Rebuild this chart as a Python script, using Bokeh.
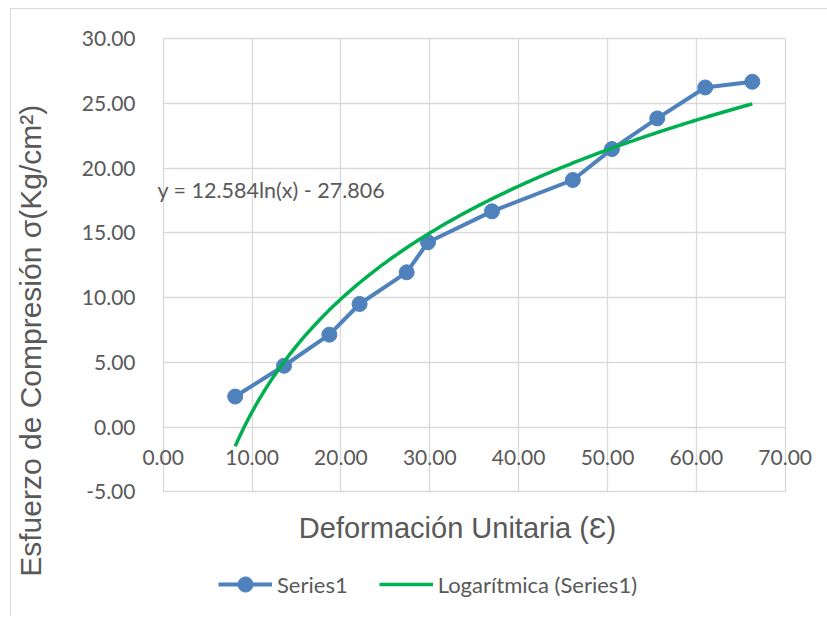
import math
import numpy as np
from bokeh.plotting import figure
from bokeh.models import (ColumnDataSource, FixedTicker, NumeralTickFormatter, Label,
                          Legend, LegendItem, Range1d, Grid)
from bokeh.embed import file_html
from bokeh.resources import INLINE

# Unit strain vs. compressive stress readings
deformacion = [8.1, 13.6, 18.7, 22.1, 27.4, 29.8, 37.0, 46.1, 50.5, 55.6, 61.0, 66.3]
esfuerzo = [2.36, 4.74, 7.14, 9.51, 11.96, 14.28, 16.67, 19.09, 21.48, 23.85, 26.24, 26.68]

# Logarithmic trend line coefficients: y = a ln(x) + b
coef_a = 12.584
coef_b = -27.806

x_ticks = [0, 10, 20, 30, 40, 50, 60, 70]
y_ticks = [-5, 0, 5, 10, 15, 20, 25, 30]

TEXT = "#595959"
GRID = "#d9d9d9"
BLUE = "#4f81bd"
GREEN = "#00b050"

# Geometry: the data box [0,70]x[-5,30] is 622x453 px; the frame is larger so that
# tick numbers, titles and legend can sit around the box without being clipped.
PX_X = 622 / 70
PX_Y = 453 / 35
X_ZERO = 151.7          # canvas px of x = 0
Y_TOP = 29.3            # canvas px of y = 30
FRAME_W, FRAME_H = 803, 598
FRAME_TOP = 9
x_lo = -X_ZERO / PX_X
x_hi = x_lo + FRAME_W / PX_X
y_hi = 30 + (Y_TOP - FRAME_TOP) / PX_Y
y_lo = y_hi - FRAME_H / PX_Y

p = figure(frame_width=FRAME_W, frame_height=FRAME_H,
           min_border_left=0, min_border_right=13,
           min_border_top=FRAME_TOP, min_border_bottom=0,
           x_range=Range1d(x_lo, x_hi), y_range=Range1d(y_lo, y_hi),
           x_axis_location="above",
           output_backend="svg", toolbar_location=None)
p.margin = (8, 0, 0, 10)
p.styles = {"border-top": "1px solid #d9d9d9", "border-left": "1px solid #d9d9d9"}
p.background_fill_color = "white"
p.border_fill_color = "white"
p.outline_line_color = None

# grid limited to the data box
p.xgrid.ticker = FixedTicker(ticks=x_ticks)
p.ygrid.ticker = FixedTicker(ticks=y_ticks)
for g in (p.xgrid, p.ygrid):
    g.grid_line_color = GRID
    g.grid_line_width = 1.3
if "cross_bounds" in Grid.properties():
    p.xgrid.cross_bounds = (y_ticks[0], y_ticks[-1])
    p.ygrid.cross_bounds = (x_ticks[0], x_ticks[-1])
else:
    p.xgrid.visible = False
    p.ygrid.visible = False
    p.segment(x0=x_ticks, x1=x_ticks, y0=[y_ticks[0]] * len(x_ticks),
              y1=[y_ticks[-1]] * len(x_ticks), line_color=GRID, line_width=1.3)
    p.segment(x0=[x_ticks[0]] * len(y_ticks), x1=[x_ticks[-1]] * len(y_ticks),
              y0=y_ticks, y1=y_ticks, line_color=GRID, line_width=1.3)

# vertical axis numbers, right-aligned just left of the box
yax = p.yaxis[0]
yax.fixed_location = x_lo
yax.ticker = FixedTicker(ticks=y_ticks)
yax.formatter = NumeralTickFormatter(format="0.00")
yax.axis_line_color = None
yax.major_tick_line_color = None
yax.minor_tick_line_color = None
yax.major_label_standoff = -130
yax.major_label_text_font = "Lato"
yax.major_label_text_font_size = "21px"
yax.major_label_text_color = TEXT

# horizontal axis numbers, hanging under the zero line
xax = p.xaxis[0]
xax.fixed_location = 0
xax.ticker = FixedTicker(ticks=x_ticks)
xax.formatter = NumeralTickFormatter(format="0.00")
xax.axis_line_color = None
xax.major_tick_line_color = None
xax.minor_tick_line_color = None
xax.major_label_standoff = -44
xax.major_label_text_font = "Lato"
xax.major_label_text_font_size = "21px"
xax.major_label_text_color = TEXT

# axis titles
p.add_layout(Label(x=(457 - 11 - X_ZERO) / PX_X, y=-7.78, text="Deformación Unitaria (Ɛ)",
                   text_align="center", text_baseline="middle",
                   text_font="Liberation Sans", text_font_size="29px", text_color=TEXT))
p.add_layout(Label(x=(30 - 11 - X_ZERO) / PX_X, y=6.67, text="Esfuerzo de Compresión σ(Kg/cm²)",
                   angle=math.pi / 2, text_align="center", text_baseline="middle",
                   text_font="Liberation Sans", text_font_size="30px", text_color=TEXT))

# data series
src = ColumnDataSource(dict(x=deformacion, y=esfuerzo))
line_r = p.line("x", "y", source=src, line_color=BLUE, line_width=4)
pts_r = p.scatter("x", "y", source=src, marker="circle", size=15,
                  fill_color=BLUE, line_color=BLUE)

# logarithmic trend from the stated equation
tx = np.linspace(min(deformacion), max(deformacion), 200)
ty = coef_a * np.log(tx) + coef_b
trend_r = p.line(tx, ty, line_color=GREEN, line_width=3.5)

p.add_layout(Label(x=-0.64, y=18.35, text="y = 12.584ln(x) - 27.806",
                   text_align="left", text_baseline="middle",
                   text_font="Lato", text_font_size="21.5px", text_color=TEXT))

legend = Legend(items=[LegendItem(label="Series1", renderers=[line_r, pts_r]),
                       LegendItem(label="Logarítmica (Series1)", renderers=[trend_r])],
                orientation="horizontal", location=(207, 13),
                glyph_width=54, glyph_height=38, label_standoff=5, spacing=31,
                padding=0, margin=0,
                label_text_font="Lato", label_text_font_size="22px",
                label_text_color=TEXT, border_line_color=None,
                background_fill_alpha=0)
p.add_layout(legend, "center")

open("out.html", "w").write(file_html(p, INLINE))
